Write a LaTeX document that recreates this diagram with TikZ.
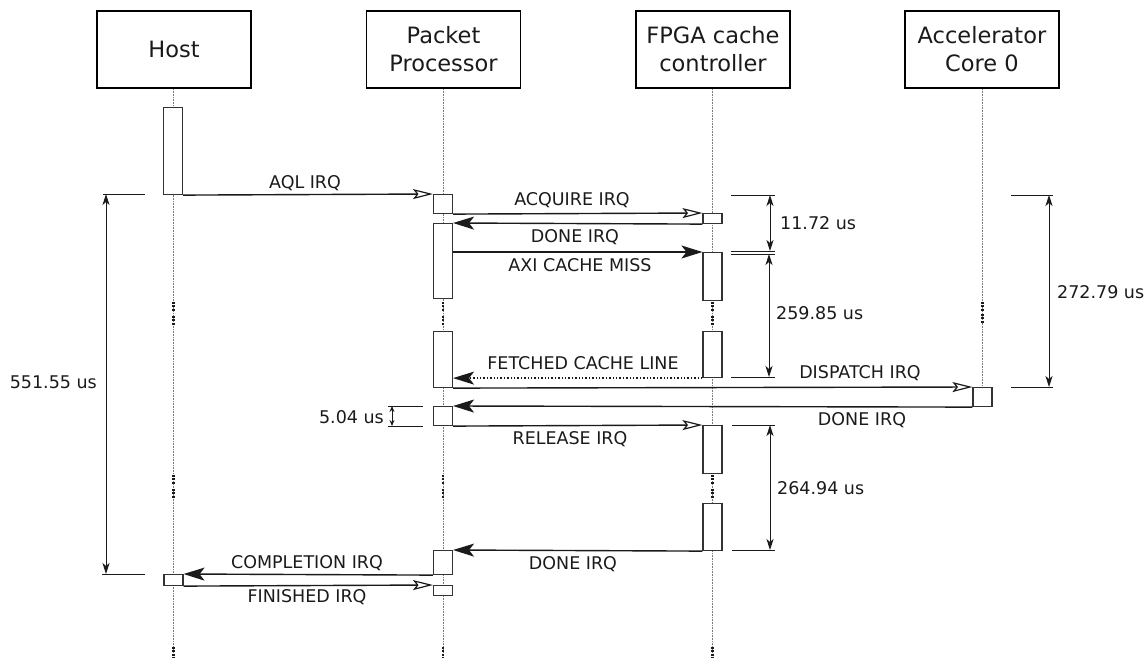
\documentclass[tikz,border=0pt]{standalone}
\usepackage{fontspec}
\setmainfont{DejaVu Sans}
\usetikzlibrary{arrows.meta}
\definecolor{txt}{HTML}{1A1A1A}
\definecolor{actc}{HTML}{333333}
\definecolor{lifec}{HTML}{7A7A7A}
\begin{document}
\begin{tikzpicture}[x=1pt,y=-1pt,
  hdr/.style={draw=black, line width=1.8pt, minimum width=154pt, minimum height=77pt, inner sep=0pt, align=center, font=\fontsize{22.5}{28}\selectfont, text=txt},
  act/.style={draw=actc, line width=1.1pt, fill=white, minimum width=19pt, inner sep=0pt, anchor=north},
  life/.style={draw=lifec, line width=0.6pt, dash pattern=on 0.8pt off 0.8pt},
  brk/.style={draw=txt, line width=2.2pt, dash pattern=on 2pt off 1.4pt},
  msg/.style={draw=txt, line width=1.4pt},
  async/.style={msg, -{Stealth[open, length=20pt, width=10pt, inset=4pt, line width=1.2pt]}},
  sync/.style={msg, -{Stealth[length=21pt, width=13pt, inset=5pt]}},
  retmsg/.style={sync, dash pattern=on 1.4pt off 2pt},
  lbl/.style={font=\fontsize{17.5}{20}\selectfont, text=txt, anchor=base, inner sep=0pt},
  dimtick/.style={draw=txt, line width=0.9pt},
  dimarr/.style={draw=txt, line width=0.9pt, {Stealth[length=11pt,width=7pt,inset=3pt]}-{Stealth[length=11pt,width=7pt,inset=3pt]}},
  smalldim/.style={draw=txt, line width=0.9pt, {Stealth[length=6pt,width=5pt,inset=2pt]}-{Stealth[length=6pt,width=5pt,inset=2pt]}},
]
\useasboundingbox (0,0) rectangle (1148,659);

% headers
\node[hdr] (host) at (174,49.5) {Host};
\node[hdr] (pp) at (443.5,49.5) {Packet\\Processor};
\node[hdr] (fc) at (713,49.5) {FPGA cache\\controller};
\node[hdr] (ac) at (982,49.5) {Accelerator\\Core 0};

% lifeline ends
\coordinate (hostend) at (173.5,658);
\coordinate (ppend) at (443,658);
\coordinate (fcend) at (712.5,658);
\coordinate (acend) at (982.5,387);

\draw[life] (host.south -| hostend) -- (hostend);
\draw[life] (pp.south -| ppend) -- (ppend);
\draw[life] (fc.south -| fcend) -- (fcend);
\draw[life] (ac.south -| acend) -- (acend);

% breaks
\foreach \x in {173.5,443,712.5}{
  \draw[brk] (\x,302) -- (\x,311);
  \draw[brk] (\x,316) -- (\x,325);
  \draw[brk] (\x,475) -- (\x,484);
  \draw[brk] (\x,489) -- (\x,498);
  \draw[brk] (\x,647) -- (\x,658);
}
\draw[brk] (982.5,302) -- (982.5,311);
\draw[brk] (982.5,314) -- (982.5,323);

% activation boxes
\node[act, minimum height=87pt] (h1) at (173,107) {};
\node[act, minimum height=11pt] (h2) at (173.5,574) {};
\node[act, minimum height=19pt] (p1) at (443,194) {};
\node[act, minimum height=75pt] (p2) at (443,223) {};
\node[act, minimum height=56pt] (p3) at (443,331) {};
\node[act, minimum height=19pt] (p4) at (443,406) {};
\node[act, minimum height=24pt] (p5) at (443,550) {};
\node[act, minimum height=10pt] (p6) at (443,585) {};
\node[act, minimum height=10pt] (f1) at (712.5,213) {};
\node[act, minimum height=48pt] (f2) at (712.5,252) {};
\node[act, minimum height=46pt] (f3) at (712.5,331) {};
\node[act, minimum height=48pt] (f4) at (712.5,425) {};
\node[act, minimum height=47pt] (f5) at (712.5,503) {};
\node[act, minimum height=19pt] (a1) at (982.5,387) {};

% messages
\draw[async] (h1.south east) -- (p1.north west);
\draw[async] (p1.south east) -- (f1.north west);
\draw[sync] (f1.south west) -- (p2.north east);
\draw[sync] (f2.north west -| p2.east) -- (f2.north west);
\draw[retmsg] (f3.south west) -- (f3.south west -| p3.east);
\draw[async] (p3.south east) -- (a1.north west);
\draw[sync] (a1.south west) -- (p4.north east);
\draw[async] (p4.south east) -- (f4.north west);
\draw[sync] (f5.south west) -- (p5.north east);
\draw[sync] (p5.south west) -- (h2.north east);
\draw[async] (h2.south east) -- (p6.north west);

% message labels
\node[lbl] (l1) at (305,188) {AQL IRQ};
\node[lbl] (l2) at (572,205) {ACQUIRE IRQ};
\node[lbl] (l3) at (575,242) {DONE IRQ};
\node[lbl] (l4) at (580,271) {AXI CACHE MISS};
\node[lbl] (l5) at (583,369) {FETCHED CACHE LINE};
\node[lbl] (l6) at (860,378) {DISPATCH IRQ};
\node[lbl] (l7) at (862,425) {DONE IRQ};
\node[lbl] (l8) at (570,444) {RELEASE IRQ};
\node[lbl] (l9) at (573,569) {DONE IRQ};
\node[lbl] (l10) at (307,568) {COMPLETION IRQ};
\node[lbl] (l11) at (307,602) {FINISHED IRQ};

% dimension: 551.55
\coordinate (d1a) at (106,194); \coordinate (d1b) at (106,574);
\draw[dimtick] (103,194) -- (145,194);
\draw[dimtick] (102,574) -- (145,574);
\draw[dimarr] (d1a) -- (d1b);
\node[lbl, anchor=base east] (t1) at (97,388) {551.55 us};

% dimension: 11.72
\coordinate (d2a) at (770,195); \coordinate (d2b) at (770,251);
\draw[dimtick] (731,195) -- (775,195);
\draw[dimtick] (731,251) -- (775,251);
\draw[dimarr] (d2a) -- (d2b);
\node[lbl, anchor=base west] (t2) at (780,229) {11.72 us};

% dimension: 259.85
\coordinate (d3a) at (769,254); \coordinate (d3b) at (769,377);
\draw[dimtick] (731,254) -- (775,254);
\draw[dimtick] (731,377) -- (775,377);
\draw[dimarr] (d3a) -- (d3b);
\node[lbl, anchor=base west] (t3) at (776,319) {259.85 us};

% dimension: 272.79
\coordinate (d4a) at (1049,195); \coordinate (d4b) at (1049,387);
\draw[dimtick] (1011,195) -- (1053,195);
\draw[dimtick] (1011,387) -- (1053,387);
\draw[dimarr] (d4a) -- (d4b);
\node[lbl, anchor=base west] (t4) at (1057,298) {272.79 us};

% dimension: 5.04
\coordinate (d5a) at (392,406); \coordinate (d5b) at (392,426);
\draw[dimtick] (388,406) -- (423,406);
\draw[dimtick] (388,426) -- (423,426);
\draw[smalldim] (d5a) -- (d5b);
\node[lbl, anchor=base east] (t5) at (384,423) {5.04 us};

% dimension: 264.94
\coordinate (d6a) at (770,425); \coordinate (d6b) at (770,550);
\draw[dimtick] (732,425) -- (775,425);
\draw[dimtick] (732,550) -- (775,550);
\draw[dimarr] (d6a) -- (d6b);
\node[lbl, anchor=base west] (t6) at (777,494) {264.94 us};
\end{tikzpicture}
\end{document}
